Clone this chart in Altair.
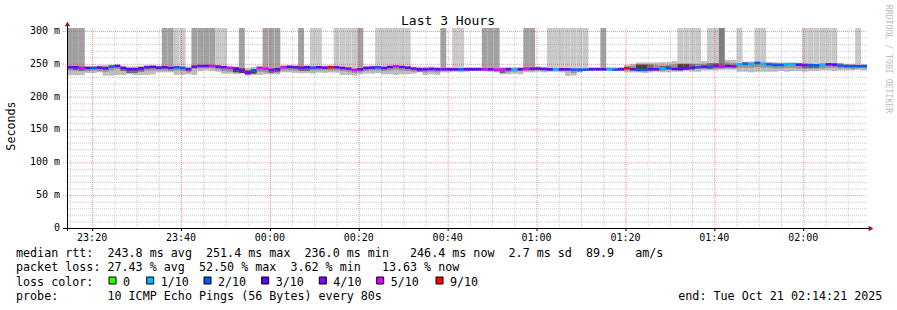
import altair as alt
import pandas as pd

# ------------------------------------------------------------------ data
START = "2025-10-20 23:14:21"
END = "2025-10-21 02:14:21"
STEP_SECONDS = 80
Y_TOP = 304.5

median_ms = [
    244.7, 244.7, 243.6, 243.6, 243.6, 244.1, 243.1, 245.7, 246.7, 243.6, 241.6, 241.6, 243.1, 244.7, 245.2,
    244.1, 244.7, 243.6, 244.7, 243.6, 241.6, 245.7, 246.7, 246.7, 246.7, 245.7, 244.7, 243.6, 242.6, 240.6,
    236.0, 239.5, 243.6, 242.6, 240.6, 241.6, 244.7, 245.2, 244.7, 244.1, 244.7, 244.1, 244.7, 244.1, 244.7,
    244.7, 243.6, 242.6, 240.6, 241.6, 243.6, 244.1, 244.7, 243.6, 245.2, 246.2, 245.2, 244.1, 242.6, 241.6,
    241.6, 242.1, 241.6, 241.6, 241.6, 241.6, 241.6, 241.6, 241.6, 241.6, 241.6, 241.6, 241.1, 241.1, 241.6,
    241.1, 241.6, 242.6, 242.6, 242.6, 242.1, 241.6, 241.6, 241.6, 241.6, 241.1, 241.1, 241.1, 241.6, 241.6,
    241.6, 241.6, 241.1, 241.6, 243.1, 241.6, 240.6, 240.6, 241.6, 241.6, 242.6, 243.6, 242.1, 242.1, 243.1,
    244.1, 244.7, 245.7, 245.2, 247.2, 245.7, 246.7, 246.2, 249.2, 250.2, 249.7, 251.4, 250.2, 249.2, 248.2,
    248.2, 249.2, 249.7, 248.7, 248.2, 247.7, 247.7, 248.7, 249.2, 248.7, 247.2, 246.7, 246.4, 246.4, 246.4,
]

loss_tenths = [
    3, 3, 5, 3, 2, 3, 3, 2, 3, 3, 3, 3, 3, 3, 3,
    3, 3, 3, 2, 2, 3, 3, 4, 3, 5, 3, 3, 5, 3, 4,
    4, 2, 5, 5, 4, 3, 5, 3, 3, 4, 3, 2, 3, 3, 9,
    3, 3, 4, 5, 3, 3, 3, 2, 3, 3, 5, 3, 3, 4, 3,
    3, 3, 3, 4, 3, 3, 2, 3, 3, 3, 5, 3, 5, 5, 3,
    1, 3, 5, 3, 3, 3, 3, 1, 3, 3, 2, 2, 2, 3, 3,
    3, 1, 2, 3, 9, 3, 2, 2, 3, 3, 1, 2, 3, 3, 4,
    3, 2, 3, 2, 4, 5, 3, 4, 1, 2, 1, 2, 1, 2, 2,
    2, 1, 1, 3, 4, 2, 2, 1, 3, 3, 2, 2, 2, 2, 2,
]

smoke_min = [
    232.5, 232.5, 232.5, 236, 236, 237, 232, 232, 233, 233, 234, 233, 233, 233, 234,
    237, 237, 237, 233, 233, 234, 233, 239, 240, 239, 238, 235, 235, 234, 235,
    232, 233, 233, 234, 234, 234, 237, 237, 236, 235.5, 236, 235, 236.5, 236, 237,
    236.5, 233, 233, 232, 234, 235, 235, 236, 234, 234, 233, 234, 234, 235, 237,
    233, 234, 233, 237, 237, 238, 237, 238, 239, 239, 239, 238, 237, 234, 234,
    235, 234, 237, 237, 238, 237, 238, 238, 237, 231.5, 232, 239, 239, 239, 240,
    239, 239, 239, 239, 237, 237, 237, 236, 237, 238, 237, 237, 238, 238, 239,
    238, 238, 240, 240, 240, 241, 241, 241, 238, 238, 237, 238, 238, 238, 238,
    239, 238, 239, 239, 238, 239, 239, 240, 240, 239, 240, 240, 240, 241, 240,
]

smoke_q_lo = [
    240, 240, 239, 239, 240, 239, 238, 240, 242, 239, 236, 236, 238, 240, 240,
    240, 240, 239, 240, 239, 237, 242, 243, 243, 243, 241, 239, 238, 237, 236,
    234, 235, 238, 237, 236, 237, 240, 240, 240, 239, 239, 240, 240, 240, 240,
    240, 239, 238, 236, 237, 239, 240, 240, 239, 240, 241, 240, 239, 238, 238,
    237, 238, 237, 239, 239, 239, 239, 239, 239, 240, 239, 239, 238, 236, 237,
    238, 239, 239, 239, 240, 240, 239, 239, 239, 239, 236, 237, 239, 240, 240,
    240, 240, 240, 240, 240, 240, 239, 239, 240, 240, 240, 241, 240, 240, 241,
    241, 242, 242, 242, 243, 243, 243, 243, 244, 244, 244, 245, 244, 244, 243,
    243, 244, 244, 243, 243, 243, 243, 243, 244, 244, 243, 243, 242, 243, 243,
]

smoke_q_hi = [
    246.5, 246.5, 246, 245.5, 245.5, 246, 246, 247, 248, 245.5, 244, 244, 245, 246.5, 247,
    246, 246.5, 245.5, 246.5, 245.5, 244, 247, 248, 248, 248, 247, 246.5, 245.5, 244.5, 243,
    240, 242, 245.5, 245, 243, 244, 246.5, 247, 246.5, 246, 246.5, 246, 246.5, 246, 246.5,
    246.5, 245.5, 244.5, 243, 244, 245.5, 246, 246.5, 245.5, 246.5, 247.5, 246.5, 246, 244.5, 243.5,
    243.5, 244, 243.5, 243.5, 243.5, 243.5, 243.5, 243.5, 243.5, 243.5, 243.5, 243.5, 243, 243, 243.5,
    243, 243.5, 244.5, 244.5, 244.5, 244, 243.5, 243.5, 243.5, 243.5, 243, 243, 243, 243.5, 243.5,
    243.5, 243.5, 243, 243.5, 246, 247, 249, 249, 249, 248, 247, 247.5, 249, 250, 250,
    250, 250, 250, 251, 251, 252, 252, 251, 251, 252, 252, 253, 252, 251, 251,
    250.5, 251, 251, 250.5, 250, 250, 249.5, 250, 251, 251, 250.5, 248.5, 248.5, 248, 248,
]

smoke_max = [
    248, 248, 248, 247, 247, 247.5, 248, 248.5, 249, 247, 246, 246, 247, 248, 248,
    247.5, 248, 247, 248, 247, 246, 248.5, 249, 249, 249, 248.5, 248, 247, 246, 245,
    244, 245, 247, 246, 245, 246, 248, 248, 248, 247.5, 248, 247.5, 248, 247.5, 248,
    248, 247, 246, 245, 246, 247, 247.5, 248, 247, 248, 249, 248, 247.5, 246, 245.5,
    245.5, 246, 245.5, 245.5, 245, 245, 245, 245, 245, 245, 245, 245, 245, 245, 245,
    245, 245, 246, 246, 246, 245.5, 245, 245, 245, 245, 244.5, 244.5, 244.5, 245, 245,
    245, 245, 244.5, 245, 248, 250, 252, 252, 252, 252, 252.5, 252.5, 254, 254, 254,
    254, 254, 254, 254, 254, 256, 256, 256, 253, 253, 253.5, 254, 253, 252.5, 252.5,
    252, 252, 252, 251.5, 251.5, 251, 251, 251.5, 252, 252, 251.5, 250, 250, 249.5, 249.5,
]

# density of the inner smoke band: 0 light, 1 medium, 2 dark
smoke_shade = [
    0, 1, 1, 0, 0, 0, 0, 0, 0, 1, 1, 1, 1, 0, 0,
    0, 0, 0, 0, 0, 0, 0, 0, 0, 0, 0, 0, 0, 2, 2,
    2, 2, 0, 0, 1, 1, 0, 0, 0, 1, 1, 0, 0, 0, 0,
    0, 0, 0, 0, 0, 0, 0, 0, 0, 0, 0, 0, 0, 0, 1,
    0, 0, 0, 0, 0, 0, 0, 0, 0, 0, 0, 0, 0, 1, 0,
    0, 0, 0, 0, 0, 0, 0, 0, 0, 0, 0, 0, 0, 0, 0,
    0, 0, 0, 0, 0, 0, 2, 2, 1, 0, 1, 1, 0, 2, 2,
    1, 0, 0, 1, 1, 1, 0, 0, 0, 0, 0, 0, 0, 0, 0,
    0, 0, 0, 0, 1, 1, 1, 0, 0, 0, 0, 0, 0, 0, 0,
]

# smoke reaching beyond the top of the graph: 0 none, 1 light, 2 medium, 3 dark
spike_shade = [
    2, 2, 2, 0, 0, 0, 0, 0, 0, 0, 0, 0, 0, 0, 0,
    0, 2, 2, 1, 1, 0, 2, 2, 2, 2, 1, 1, 0, 0, 2,
    0, 0, 0, 2, 2, 2, 0, 0, 0, 2, 0, 1, 1, 0, 0,
    1, 1, 1, 1, 2, 0, 0, 1, 1, 1, 1, 1, 1, 0, 0,
    0, 0, 0, 2, 0, 1, 1, 0, 0, 0, 2, 2, 2, 0, 0,
    0, 0, 2, 2, 0, 0, 1, 1, 1, 1, 1, 1, 1, 0, 0,
    2, 0, 0, 0, 0, 0, 0, 0, 0, 0, 0, 0, 0, 1, 1,
    1, 1, 0, 1, 1, 3, 0, 0, 1, 0, 0, 1, 1, 0, 0,
    0, 0, 0, 0, 1, 1, 1, 1, 1, 1, 0, 0, 0, 1, 0,
]

tick_labels = ["23:20", "23:40", "00:00", "00:20", "00:40", "01:00", "01:20", "01:40", "02:00"]
tick_dates = ["2025-10-20"] * 2 + ["2025-10-21"] * 7
y_ticks = [0, 50, 100, 150, 200, 250, 300]
y_tick_labels = ["0  ", "50 m", "100 m", "150 m", "200 m", "250 m", "300 m"]

loss_levels = [0, 1, 2, 3, 4, 5, 9]
loss_labels = ["0", "1/10", "2/10", "3/10", "4/10", "5/10", "9/10"]
loss_colors = ["#26ff00", "#00b8ff", "#0059ff", "#5e00ff", "#7e00ff", "#dd00ff", "#ff0000"]

title_text = "Last 3 Hours"
y_title = "Seconds"
stats_lines = [
    "median rtt:  243.8 ms avg  251.4 ms max  236.0 ms min   246.4 ms now  2.7 ms sd  89.9   am/s",
    "packet loss: 27.43 % avg  52.50 % max  3.62 % min   13.63 % now",
    "loss color:",
    "probe:       10 ICMP Echo Pings (56 Bytes) every 80s",
]
end_text = "end: Tue Oct 21 02:14:21 2025"
side_text = "RRDTOOL / TOBI OETIKER"

NB = "\u00a0"

# ------------------------------------------------------------------ frames
start = pd.Timestamp(START)
n = len(median_ms)
df = pd.DataFrame({
    "t": [start + pd.Timedelta(seconds=STEP_SECONDS * i) for i in range(n)],
    "t2": [start + pd.Timedelta(seconds=STEP_SECONDS * (i + 1)) for i in range(n)],
    "med": median_ms,
    "loss": loss_tenths,
    "lo": smoke_min,
    "qlo": smoke_q_lo,
    "qhi": smoke_q_hi,
    "hi": smoke_max,
    "shade": smoke_shade,
    "spike": spike_shade,
})
df["top"] = Y_TOP


def dt(ts):
    p = pd.Timestamp(ts)
    return alt.DateTime(year=p.year, month=p.month, date=p.day,
                        hours=p.hour, minutes=p.minute, seconds=p.second)


tick_ts = [pd.Timestamp(d + " " + l) for d, l in zip(tick_dates, tick_labels)]
xticks_df = pd.DataFrame({"t": tick_ts, "lab": tick_labels})
yticks_df = pd.DataFrame({"v": y_ticks, "lab": [s.replace(" ", NB) for s in y_tick_labels]})
minor_ts = [ts for ts in pd.date_range("2025-10-20 23:15", "2025-10-21 02:10", freq="5min")
            if ts.minute % 20 != 0]
minor_y = [v for v in range(10, 301, 10) if v % 50 != 0]
major_y = [v for v in y_ticks if v > 0]

xscale = alt.Scale(domain=[dt(START), dt(END)])
yscale = alt.Scale(domain=[0, Y_TOP], nice=False, zero=False)
MONO = "DejaVu Sans Mono"


def X(field="t:T"):
    return alt.X(field, scale=xscale, axis=None)


def Y(field):
    return alt.Y(field, scale=yscale, axis=None)


layers = []

# outer smoke
layers.append(alt.Chart(df).mark_rect(color="#bdbdbd").encode(
    x=X(), x2="t2:T", y=Y("lo:Q"), y2="hi:Q"))
# spikes to the top
layers.append(alt.Chart(df).transform_filter("datum.spike > 0").mark_rect().encode(
    x=X(), x2="t2:T", y=Y("qhi:Q"), y2="top:Q",
    color=alt.Color("spike:O", scale=alt.Scale(domain=[1, 2, 3], range=["#cacaca", "#a2a2a2", "#7e7e7e"]),
                    legend=None),
))
# inner smoke
layers.append(alt.Chart(df).mark_rect().encode(
    x=X(), x2="t2:T", y=Y("qlo:Q"), y2="qhi:Q",
    color=alt.Color("shade:O", scale=alt.Scale(domain=[0, 1, 2], range=["#929292", "#6c6c6c", "#444444"]),
                    legend=None),
))

# grid
one = pd.DataFrame({"a": [0]})
layers.append(alt.Chart(pd.DataFrame({"v": minor_y})).mark_rule(
    color="#8f8f8f", opacity=0.45, strokeDash=[1, 1], strokeWidth=1, yOffset=0.5).encode(y=Y("v:Q")))
layers.append(alt.Chart(pd.DataFrame({"t": minor_ts})).mark_rule(
    color="#8f8f8f", opacity=0.45, strokeDash=[1, 1], strokeWidth=1, xOffset=0.5).encode(x=X()))
layers.append(alt.Chart(pd.DataFrame({"v": major_y})).mark_rule(
    color="#e04040", opacity=0.55, strokeDash=[1, 1], strokeWidth=1, yOffset=0.5).encode(
    y=Y("v:Q"), x=alt.value(-4), x2=alt.value(800)))
layers.append(alt.Chart(pd.DataFrame({"t": tick_ts})).mark_rule(
    color="#e04040", opacity=0.55, strokeDash=[1, 1], strokeWidth=1, xOffset=0.5).encode(x=X()))

# median coloured by loss
layers.append(alt.Chart(df).mark_rule(strokeWidth=2.4).encode(
    x=X(), x2="t2:T", y=Y("med:Q"),
    color=alt.Color("loss:O", scale=alt.Scale(domain=loss_levels, range=loss_colors), legend=None),
))

# axis lines, ticks and arrows
layers.append(alt.Chart(one).mark_rule(color="#000000", strokeWidth=1).encode(
    x=alt.value(-4), x2=alt.value(802), y=alt.value(200.5)))
layers.append(alt.Chart(one).mark_rule(color="#000000", strokeWidth=1).encode(
    x=alt.value(0.5), y=alt.value(-4), y2=alt.value(203)))
layers.append(alt.Chart(xticks_df).mark_rule(color="#000000", strokeWidth=1, xOffset=0.5).encode(
    x=X(), y=alt.value(200), y2=alt.value(203)))
layers.append(alt.Chart(one).mark_point(shape="triangle-right", filled=True, size=28, color="#9a1212",
                                        opacity=1).encode(x=alt.value(804), y=alt.value(200.5)))
layers.append(alt.Chart(one).mark_point(shape="triangle-up", filled=True, size=28, color="#9a1212",
                                        opacity=1).encode(x=alt.value(0.5), y=alt.value(-4)))

# tick labels
layers.append(alt.Chart(xticks_df).mark_text(font=MONO, fontSize=10, color="#000000", align="center",
                                             baseline="alphabetic").encode(
    x=X(), y=alt.value(212.8), text="lab:N"))
layers.append(alt.Chart(yticks_df).mark_text(font=MONO, fontSize=10, color="#000000", align="right",
                                             baseline="middle").encode(
    y=Y("v:Q"), x=alt.value(-7), text="lab:N"))


def txt(s, x, y, size=11.7, align="left", baseline="alphabetic", angle=0, color="#000000"):
    kw = dict(font=MONO, fontSize=size, align=align, baseline=baseline, color=color)
    if angle:
        kw["angle"] = angle
    return alt.Chart(one).mark_text(**kw).encode(
        x=alt.value(x), y=alt.value(y), text=alt.value(s.replace(" ", NB)))


layers.append(txt(title_text, 381, -3.5, size=13, align="center"))
layers.append(txt(y_title, -56, 98, align="center", baseline="middle", angle=270))
layers.append(txt(side_text, 821, 31, size=8.2, align="center", baseline="middle", angle=90, color="#bdbdbd"))

line_y = [229.2, 243.4, 257.6, 271.7]
for s, yy in zip(stats_lines, line_y):
    layers.append(txt(s, -51, yy))
layers.append(txt(end_text, 611.3, line_y[3]))

label_x = [56, 93.7, 151, 208.7, 266.3, 323.7, 383]
for lab, col, lx in zip(loss_labels, loss_colors, label_x):
    layers.append(alt.Chart(one).mark_rect(color=col, stroke="#000000", strokeWidth=1).encode(
        x=alt.value(lx - 14), x2=alt.value(lx - 7), y=alt.value(249), y2=alt.value(256)))
    layers.append(txt(lab, lx, line_y[2]))

chart = alt.layer(*layers).resolve_scale(color="independent").properties(
    width=800, height=200,
    padding={"left": 67, "top": 28, "right": 30, "bottom": 82},
    autosize=alt.AutoSizeParams(type="none"),
    background="#ffffff",
).configure_view(strokeWidth=0)

chart.save("out.html", embed_options={"renderer": "svg", "actions": False})
